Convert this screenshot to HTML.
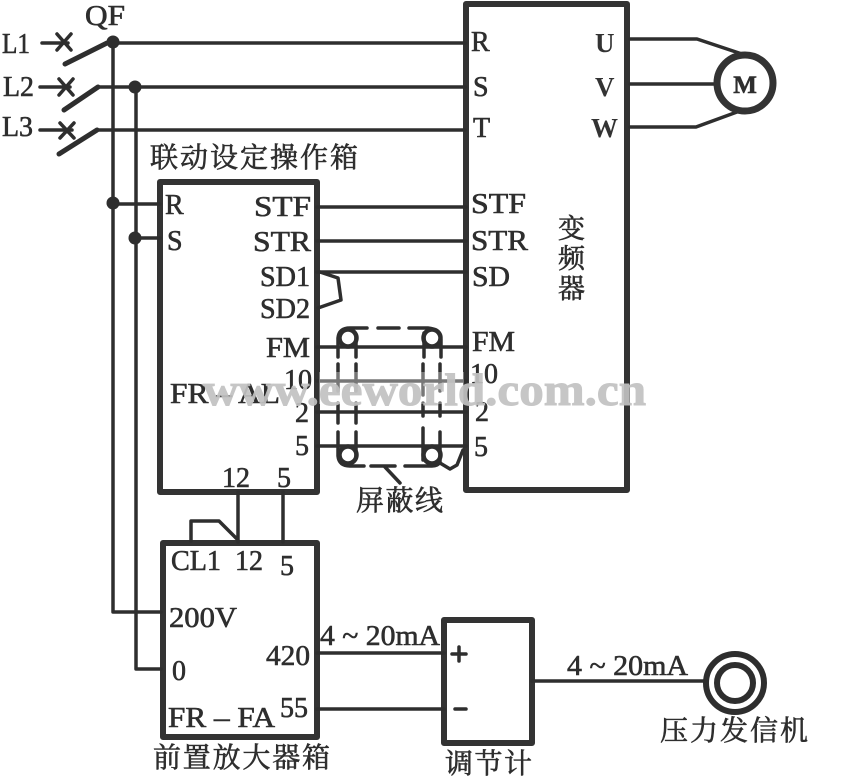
<!DOCTYPE html>
<html><head><meta charset="utf-8">
<style>
html,body{margin:0;padding:0;background:#fff}
svg{display:block}
text{font-family:"Liberation Serif","Noto Serif CJK SC",serif;fill:#2e2e2e;font-size:28px;stroke:#2e2e2e;stroke-width:.6px}
.c{font-size:27px;font-weight:700;stroke:none;fill:#333}
.l{fill:none;stroke:#2e2e2e;stroke-width:3.5;stroke-linejoin:round;stroke-linecap:round}
.b{fill:none;stroke:#333;stroke-width:6;stroke-linejoin:round}
.w{font-family:"Liberation Serif",serif;font-weight:700;font-size:46px;fill:#c2c2c2;stroke:#c2c2c2;stroke-width:1px;opacity:.92}
</style></head><body>
<svg width="860" height="777" viewBox="0 0 860 777" xmlns="http://www.w3.org/2000/svg">
<!-- boxes -->
<rect class="b" x="160" y="182" width="157" height="310"/>
<rect class="b" x="466" y="4" width="161" height="486"/>
<rect class="b" x="163" y="543" width="154" height="194"/>
<rect class="b" x="444" y="620" width="88" height="123"/>
<!-- mains -->
<g class="l">
<path d="M113 43H465M98 87H465M97 130H465"/>
<path d="M113 43V612H161M136 87V669H161"/>
<path d="M113 204H160M135 238H160"/>
<path d="M42 43H68M40 87H70M40 130H72"/>
<path d="M57 34L71 50M71 34L57 50M59 79L73 95M73 79L59 95M60 123L74 138M74 123L60 138"/>
<path d="M65 64L107 43M64 110L98 87M59 154L97 130" stroke-width="5"/>
<!-- signals -->
<path d="M317 207H466M317 241H466M317 272H466M317 347H466M317 381H466M317 412H466M317 446H466"/>
<path d="M320 272L338 278L341 300L318 308"/>
<!-- shield -->
<path d="M338 357V338Q339 328 350 328H367M378 328H399M409 328H428Q440 329 441 340V357M356 336V357M424 333V357"/>
<path d="M338 364V391M356 364V391M423 364V395M440 364V391M338 403V423M356 403V423M423 403V416M440 403V416"/>
<path d="M338 432V456Q339 466 350 466H364M371 466H395M405 466H432Q438 466 440 462V432M356 432V458M423 428V460"/>
<path d="M385 467L400 483M440 463L450 469L457 465L463 450"/>
<path d="M238 492V542M283 492V542M191 541V521H219L238 540"/>
<path d="M317 653H444M317 709H444M532 681H705"/>
<path d="M630 39H697L745 55M630 84H716M630 127H696L737 112"/>
<path d="M452 654H466M459 647V661M455 709H466"/>
</g>
<g fill="#2e2e2e">
<circle cx="113" cy="42" r="6.5"/><circle cx="135" cy="87" r="6.5"/>
<circle cx="113" cy="203" r="6.5"/><circle cx="135" cy="238" r="6.5"/>
</g>
<g fill="none" stroke="#2e2e2e" stroke-width="4.5">
<circle cx="348" cy="338" r="8.5"/><circle cx="432" cy="338" r="8.5"/>
<circle cx="348" cy="455" r="8.5"/><circle cx="432" cy="455" r="8.5"/>
</g>
<circle cx="745" cy="83" r="28" fill="#fff" stroke="#333" stroke-width="7"/>
<circle cx="735" cy="683" r="29" fill="#fff" stroke="#2e2e2e" stroke-width="6"/>
<circle cx="735" cy="683" r="18" fill="#fff" stroke="#2e2e2e" stroke-width="6"/>
<!-- left -->
<text x="85" y="25" textLength="40" lengthAdjust="spacingAndGlyphs">QF</text>
<text x="2" y="53" textLength="28" lengthAdjust="spacingAndGlyphs">L1</text>
<text x="3" y="96" textLength="31" lengthAdjust="spacingAndGlyphs">L2</text>
<text x="2" y="136" textLength="31" lengthAdjust="spacingAndGlyphs">L3</text>
<!-- VFD -->
<text x="471" y="51">R</text><text x="473" y="96">S</text><text x="473" y="137">T</text>
<text class="c" x="595" y="52">U</text><text class="c" x="595" y="96">V</text><text class="c" x="591" y="137">W</text>
<text x="745" y="93" text-anchor="middle" font-weight="700" style="font-size:25px">M</text>
<text x="471" y="213" textLength="55" lengthAdjust="spacingAndGlyphs">STF</text>
<text x="471" y="250" textLength="57" lengthAdjust="spacingAndGlyphs">STR</text>
<text x="472" y="286" textLength="38" lengthAdjust="spacingAndGlyphs">SD</text>
<text x="472" y="351" textLength="43" lengthAdjust="spacingAndGlyphs">FM</text>
<text x="470" y="383">10</text><text x="475" y="421">2</text><text x="474" y="456">5</text>
<text x="558" y="238" style="font-size:27px">变</text>
<text x="558" y="268" style="font-size:27px">频</text>
<text x="558" y="298" style="font-size:27px">器</text>
<!-- linkage box -->
<text x="150" y="167" textLength="208" style="font-size:28px">联动设定操作箱</text>
<text x="165" y="214">R</text><text x="167" y="250">S</text>
<text x="254" y="216" textLength="57" lengthAdjust="spacingAndGlyphs">STF</text>
<text x="253" y="251" textLength="58" lengthAdjust="spacingAndGlyphs">STR</text>
<text x="260" y="286" textLength="50" lengthAdjust="spacingAndGlyphs">SD1</text>
<text x="260" y="318" textLength="50" lengthAdjust="spacingAndGlyphs">SD2</text>
<text x="266" y="357" textLength="44" lengthAdjust="spacingAndGlyphs">FM</text>
<text x="284" y="389">10</text><text x="295" y="422">2</text><text x="295" y="455">5</text>
<text x="170" y="403" textLength="110" lengthAdjust="spacingAndGlyphs">FR – AL</text>
<text x="222" y="487">12</text><text x="277" y="487">5</text>
<text x="356" y="510" textLength="87" style="font-size:28px">屏蔽线</text>
<!-- preamp -->
<text x="171" y="570" textLength="50" lengthAdjust="spacingAndGlyphs">CL1</text>
<text x="235" y="570">12</text><text x="280" y="575">5</text>
<text x="169" y="627" textLength="68" lengthAdjust="spacingAndGlyphs">200V</text>
<text x="172" y="680">0</text>
<text x="266" y="665" textLength="44" lengthAdjust="spacingAndGlyphs">420</text>
<text x="280" y="717">55</text>
<text x="168" y="727" textLength="107" lengthAdjust="spacingAndGlyphs">FR – FA</text>
<text x="153" y="767" textLength="177" style="font-size:28px">前置放大器箱</text>
<text x="320" y="645" textLength="120" lengthAdjust="spacingAndGlyphs">4 ~ 20mA</text>
<text x="567" y="675" textLength="121" lengthAdjust="spacingAndGlyphs">4 ~ 20mA</text>
<text x="660" y="740" textLength="148" style="font-size:28px">压力发信机</text>
<text x="445" y="773" textLength="87" style="font-size:28px">调节计</text>
<!-- watermark -->
<rect x="319" y="372" width="145" height="32" fill="#fff" opacity=".35"/>
<text class="w" x="203" y="405" textLength="443" lengthAdjust="spacingAndGlyphs">www.eeworld.com.cn</text>
</svg>
</body></html>
